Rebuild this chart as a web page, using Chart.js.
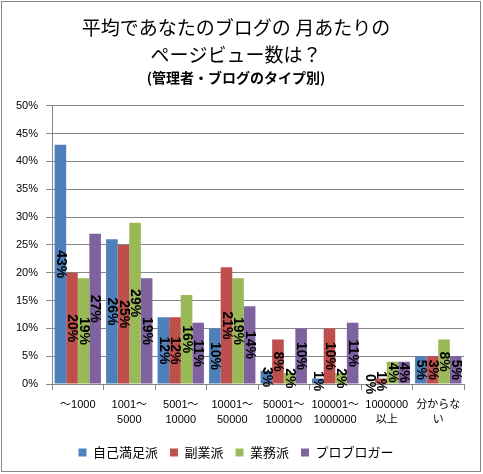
<!DOCTYPE html>
<html>
<head>
<meta charset="utf-8">
<script src="https://cdn.jsdelivr.net/npm/chart.js@4"></script>
<style>
  body { margin: 0; background: #fff; }
</style>
</head>
<body>
<canvas id="myChart" width="483" height="474"></canvas>
<script>
// categories (x axis)
var categories = [['～1000'], ['1001～', '5000'], ['5001～', '10000'], ['10001～', '50000'],
    ['50001～', '100000'], ['100001～', '1000000'], ['1000000', '以上'], ['分からな', 'い']];
var seriesNames = ['自己満足派', '副業派', '業務派', 'プロブロガー'];

// bar heights (%) as drawn
var selfValues   = [43, 26, 12, 10, 2.4, 1, 0, 5];
var sideValues   = [20, 25, 12, 21, 8, 10, 1, 5];
var workValues   = [19, 29, 16, 19, 2, 2, 4, 8];
var proValues    = [27, 19, 11, 14, 10, 11, 4, 5];

// label text printed on the bars
var selfLabels = ['43%', '26%', '12%', '10%', '3%', '1%', '0%', '5%'];
var sideLabels = ['20%', '25%', '12%', '21%', '8%', '10%', '1%', '3%'];
var workLabels = ['19%', '29%', '16%', '19%', '2%', '2%', '4%', '8%'];
var proLabels  = ['27%', '19%', '11%', '14%', '10%', '11%', '4%', '5%'];

var yTicks = [0, 5, 10, 15, 20, 25, 30, 35, 40, 45, 50];

var colors = ['#4F81BD', '#C0504D', '#9BBB59', '#8064A2'];
var dotColors = ['#4676AE', '#B04541', '#8EAD4E', '#745896'];
var gridColor = '#868686';

// small dotted texture like the office fill
function texture(base, dot) {
    var p = document.createElement('canvas');
    p.width = 4; p.height = 4;
    var g = p.getContext('2d');
    g.fillStyle = base;
    g.fillRect(0, 0, 4, 4);
    g.fillStyle = dot;
    g.fillRect(0, 0, 1, 1);
    g.fillRect(2, 2, 1, 1);
    return g.createPattern(p, 'repeat');
}

// white background + outer frame
var frame = {
    id: 'frame',
    beforeDraw: function (chart) {
        var c = chart.ctx;
        c.save();
        c.fillStyle = '#fff';
        c.fillRect(0, 0, chart.width, chart.height);
        c.restore();
    },
    afterDraw: function (chart) {
        var c = chart.ctx;
        c.save();
        c.strokeStyle = gridColor;
        c.lineWidth = 1;
        c.strokeRect(1.5, 1.5, 479, 470);
        c.restore();
    }
};

// rotated value labels, centred in each bar
var barLabels = {
    id: 'barLabels',
    afterDatasetsDraw: function (chart) {
        var c = chart.ctx;
        c.save();
        c.font = 'bold 14px "Liberation Sans", "DejaVu Sans", sans-serif';
        c.fillStyle = '#000';
        c.textAlign = 'center';
        c.textBaseline = 'middle';
        chart.data.datasets.forEach(function (ds, i) {
            var meta = chart.getDatasetMeta(i);
            meta.data.forEach(function (bar, j) {
                var cy = (bar.y + bar.base) / 2;
                c.save();
                c.translate(bar.x, cy);
                c.rotate(Math.PI / 2);
                c.fillText(ds.valueLabels[j], 0, 0);
                c.restore();
            });
        });
        c.restore();
    }
};

var allValues = [selfValues, sideValues, workValues, proValues];
var allLabels = [selfLabels, sideLabels, workLabels, proLabels];

var ctx = document.getElementById('myChart').getContext('2d');
var myChart = new Chart(ctx, {
    type: 'bar',
    data: {
        labels: categories,
        datasets: seriesNames.map(function (name, i) {
            return {
                label: name,
                data: allValues[i],
                valueLabels: allLabels[i],
                backgroundColor: texture(colors[i], dotColors[i]),
                borderWidth: 0,
                categoryPercentage: 0.9,
                barPercentage: 1.0
            };
        })
    },
    options: {
        responsive: false,
        animation: false,
        devicePixelRatio: 1,
        layout: {
            padding: { top: 4, left: 8, right: 19, bottom: 5 }
        },
        plugins: {
            title: {
                display: true,
                text: ['平均であなたのブログの 月あたりの', 'ページビュー数は？'],
                color: '#000',
                font: { family: '"Noto Sans CJK JP", sans-serif', size: 19, weight: 'normal', lineHeight: 1.42 },
                padding: { top: 10, bottom: 1 }
            },
            subtitle: {
                display: true,
                text: '(管理者・ブログのタイプ別)',
                color: '#000',
                font: { family: '"Noto Sans CJK JP", sans-serif', size: 14, weight: 'bold', lineHeight: 1.2 },
                padding: { top: 0, bottom: 20 }
            },
            legend: {
                position: 'bottom',
                labels: {
                    boxWidth: 8,
                    boxHeight: 8,
                    padding: 12,
                    color: '#000',
                    generateLabels: function (chart) {
                        return chart.data.datasets.map(function (ds, i) {
                            return {
                                text: ds.label,
                                fillStyle: colors[i],
                                strokeStyle: colors[i],
                                lineWidth: 0,
                                fontColor: '#000',
                                datasetIndex: i
                            };
                        });
                    },
                    font: { family: '"Noto Sans CJK JP", sans-serif', size: 13 }
                }
            },
            tooltip: { enabled: false }
        },
        scales: {
            x: {
                grid: {
                    display: true,
                    drawOnChartArea: false,
                    color: gridColor,
                    tickLength: 6
                },
                border: { color: gridColor },
                ticks: {
                    color: '#000',
                    maxRotation: 0,
                    autoSkip: false,
                    padding: 7,
                    font: { family: '"Liberation Sans", "Noto Sans CJK JP", sans-serif', size: 11, lineHeight: 1.36 }
                }
            },
            y: {
                min: 0,
                max: 50,
                afterBuildTicks: function (axis) {
                    axis.ticks = yTicks.map(function (v) { return { value: v }; });
                },
                grid: {
                    color: gridColor,
                    tickLength: 6
                },
                border: { color: gridColor },
                ticks: {
                    color: '#000',
                    padding: 8,
                    font: { family: '"Liberation Sans", sans-serif', size: 11 },
                    callback: function (v) { return v + '%'; }
                }
            }
        }
    },
    plugins: [frame, barLabels]
});
</script>
</body>
</html>
